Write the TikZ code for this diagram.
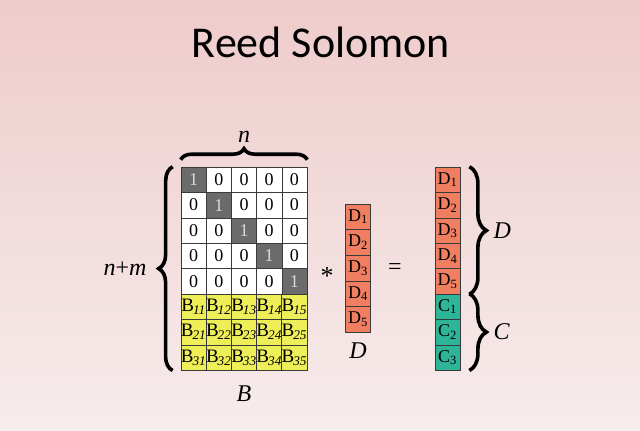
\documentclass[tikz,border=0pt]{standalone}
\usepackage{fontspec}
\setmainfont{Liberation Serif}[Ligatures=TeX]
\newfontfamily\cellfont{Liberation Serif}
\newfontfamily\titlefont{Carlito}
\usetikzlibrary{
	positioning,
	calc,
	decorations.pathreplacing
}
\definecolor{SlideTop}{HTML}{EECBCB}
\definecolor{SlideBottom}{HTML}{F7ECEC}
\definecolor{UnitGray}{HTML}{6B6B6B}
\definecolor{CodeYellow}{HTML}{EEEE58}
\definecolor{DataOrange}{HTML}{F07E60}
\definecolor{CheckTeal}{HTML}{2EB497}
\definecolor{CellLine}{HTML}{3A3A3A}

\begin{document}
\begin{tikzpicture}[x=1pt,y=-1pt,
 cell/.style={draw=CellLine,line width=.6pt,inner sep=0pt,
   minimum width=25.2pt,minimum height=25.4pt,font=\cellfont\fontsize{18}{18}\selectfont},
 zerocell/.style={cell,fill=white},
 onecell/.style={cell,fill=UnitGray,text=white!85!black},
 bcell/.style={cell,fill=CodeYellow,font=\cellfont\fontsize{19}{19}\selectfont},
 dcell/.style={cell,fill=DataOrange,minimum height=25.6pt},
 ccell/.style={cell,fill=CheckTeal},
 bigbrace/.style={decorate,decoration={brace,amplitude=#1},line width=3.6pt},
 biglabel/.style={font=\cellfont\fontsize{24}{24}\selectfont\itshape}
]
 \shade[top color=SlideTop,bottom color=SlideBottom] (0,0) rectangle (640,431);
 \useasboundingbox (0,0) rectangle (640,431);
 \node[font=\titlefont\fontsize{44}{44}\selectfont] (title) at (321,42) {Reed Solomon};
 % identity block
 \foreach \r in {1,...,5}
  \foreach \c in {1,...,5}{
   \ifnum\r=\c
    \node[onecell] (g-\r-\c) at ({181+25.2*(\c-0.5)},{167+25.4*(\r-0.5)}) {1};
   \else
    \node[zerocell] (g-\r-\c) at ({181+25.2*(\c-0.5)},{167+25.4*(\r-0.5)}) {0};
   \fi}
 % coding rows
 \foreach \r in {1,2,3}
  \foreach \c in {1,...,5}
   \node[bcell] (b-\r-\c) at ({181+25.2*(\c-0.5)},{167+25.4*(\r+4.5)})
     {B\kern-1pt\textsubscript{\textit{\r\c}}};
 % data vector
 \foreach \i in {1,...,5}
  \node[dcell] (d-\i) at (358,{204+25.6*(\i-0.5)}) {D\textsubscript{\i}};
 % result vector
 \foreach \i in {1,...,5}
  \node[dcell,minimum height=25.4pt] (r-\i) at (447.5,{167+25.4*(\i-0.5)}) {D\textsubscript{\i}};
 \foreach \i in {1,2,3}
  \node[ccell] (c-\i) at (447.5,{167+25.4*(\i+4.5)}) {C\textsubscript{\i}};
 \node[font=\cellfont\fontsize{26}{26}\selectfont] (times) at (327,276) {*};
 \node[font=\cellfont\fontsize{24}{24}\selectfont] (equals) at (395,269) {=};
 \node[biglabel,below=7pt of d-5] (dlabel) {D};
 \node[biglabel,below=12pt of b-3-3] (blabel) {B};
 % braces
 \draw[bigbrace=14pt] ([xshift=-8pt]b-3-1.south west) --
   node[biglabel,left=21pt] (nm) {n\upshape+\itshape m} ([xshift=-8pt]g-1-1.north west);
 \draw[bigbrace=11pt] ([yshift=7pt]g-1-1.north west) --
   node[biglabel,above=12pt] (nlabel) {n} ([yshift=7pt]g-1-5.north east);
 \draw[bigbrace=17pt] ([xshift=9pt]r-1.north east) --
   node[biglabel,right=19pt] (dside) {D} ([xshift=9pt]r-5.south east);
 \draw[bigbrace=17pt] ([xshift=9pt]c-1.north east) --
   node[biglabel,right=19pt] (cside) {C} ([xshift=9pt]c-3.south east);
\end{tikzpicture}
\end{document}
